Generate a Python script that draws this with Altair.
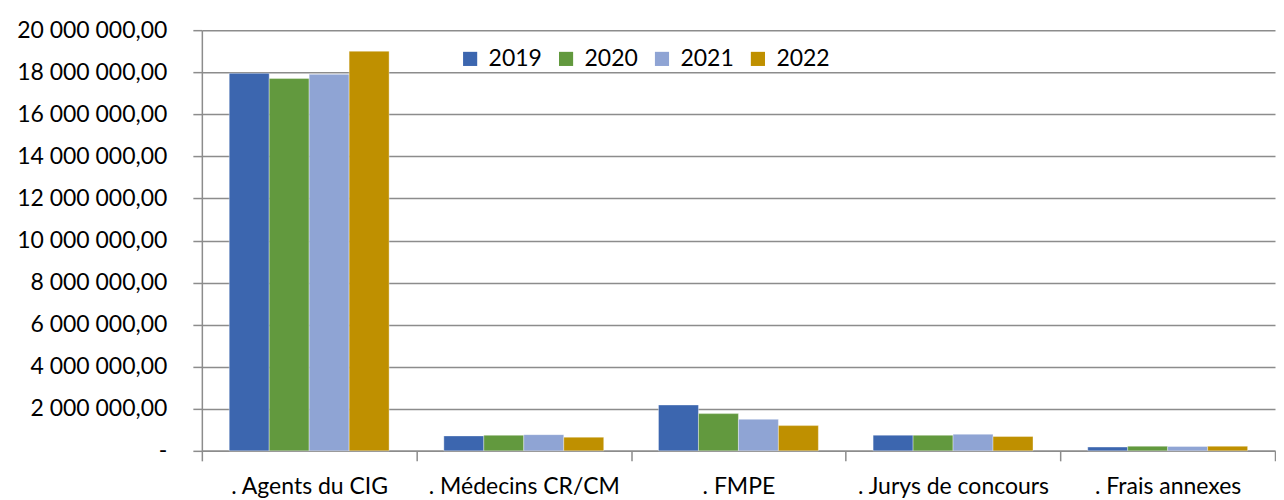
import altair as alt
import pandas as pd

categories = [". Agents du CIG", ". Médecins CR/CM", ". FMPE", ". Jurys de concours", ". Frais annexes"]
years = ["2019", "2020", "2021", "2022"]
v2019 = [17950000, 710000, 2180000, 745000, 180000]
v2020 = [17700000, 740000, 1770000, 740000, 220000]
v2021 = [17900000, 770000, 1500000, 790000, 210000]
v2022 = [19000000, 650000, 1200000, 680000, 220000]
colors = ["#3C66AF", "#62993E", "#8FA4D4", "#BF9000"]

rows = []
for y, vals in zip(years, [v2019, v2020, v2021, v2022]):
    for c, v in zip(categories, vals):
        rows.append({"cat": c, "year": y, "value": v})
df = pd.DataFrame(rows)

FONT = "Lato"
FS = 23
label_expr = "datum.value == 0 ? '-' : replace(join(split(format(datum.value, ',.2f'), ','), ' '), '.', ',')"

chart = alt.Chart(df).mark_bar(stroke="#ffffff", strokeWidth=0.6, strokeOpacity=0.6).encode(
    x=alt.X("cat:N", sort=categories, title=None,
            scale=alt.Scale(paddingInner=0, paddingOuter=0),
            axis=alt.Axis(labelAngle=0, labelFontSize=FS, labelFont=FONT, labelColor="#000000",
                          labelLimit=0, labelOverlap=False,
                          tickBand="extent", tickSize=10, tickColor="#8c8c8c", tickWidth=1.5,
                          domainColor="#8c8c8c", domainWidth=1.5, labelPadding=15, grid=False)),
    xOffset=alt.XOffset("year:N", sort=years,
                        scale=alt.Scale(paddingInner=0, paddingOuter=0.685)),
    y=alt.Y("value:Q", title=None,
            scale=alt.Scale(domain=[0, 20000000], nice=False),
            axis=alt.Axis(values=list(range(0, 20000001, 2000000)), labelExpr=label_expr,
                          labelFontSize=FS, labelFont=FONT, labelColor="#000000",
                          tickSize=9, tickColor="#8c8c8c", tickWidth=1.5, labelPadding=26,
                          domainColor="#8c8c8c", domainWidth=1.5,
                          gridColor="#8c8c8c", gridWidth=1.5,
                          minExtent=194, maxExtent=194)),
    color=alt.Color("year:N", sort=years, scale=alt.Scale(domain=years, range=colors),
                    legend=alt.Legend(title=None, orient="none", legendX=257, legendY=17,
                                      direction="horizontal", columns=4, symbolType="square",
                                      symbolSize=200, symbolStrokeWidth=0, labelFontSize=FS,
                                      labelFont=FONT, labelColor="#000000", columnPadding=12,
                                      labelOffset=7)),
).properties(width=1074, height=421, padding={"left": 0, "top": 11, "right": 0, "bottom": 0}
).configure_view(stroke=None)

chart.save("out.html", embed_options={"renderer": "svg", "actions": False})
